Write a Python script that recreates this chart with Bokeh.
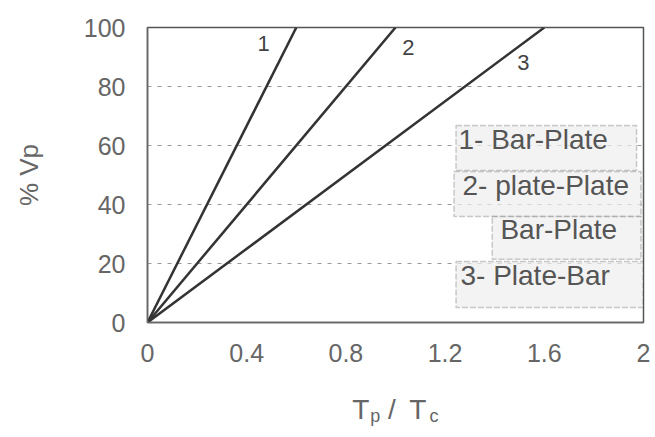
from bokeh.plotting import figure
from bokeh.models import FixedTicker, Range1d, BoxAnnotation, Label, LinearAxis
from bokeh.embed import file_html
from bokeh.resources import INLINE

# ---- data ----
x_ticks = [0, 0.4, 0.8, 1.2, 1.6, 2]
x_tick_labels = ["0", "0.4", "0.8", "1.2", "1.6", "2"]
y_ticks = [0, 20, 40, 60, 80, 100]
y_tick_labels = ["0", "20", "40", "60", "80", "100"]

line_names = ["1", "2", "3"]
line1_x = [0, 0.6]
line1_y = [0, 100]
line2_x = [0, 1.0]
line2_y = [0, 100]
line3_x = [0, 1.6]
line3_y = [0, 100]

legend_texts = ["1- Bar-Plate", "2- plate-Plate", "Bar-Plate", "3- Plate-Bar"]

# x-axis title "T_p / T_c" : main characters and subscripts
title_main_pos = [0.86, 0.985, 1.09]
title_main_txt = ["T", "/", "T"]
title_sub_pos = [0.918, 1.155]
title_sub_txt = ["p", "c"]

FONT = "Liberation Sans"
TXT = "#666666"

W, H = 652, 435
p = figure(width=W, height=H, output_backend="svg", toolbar_location=None,
           x_range=Range1d(0, 2), y_range=Range1d(0, 100),
           min_border_left=147, min_border_right=W - 643, min_border_top=27,
           min_border_bottom=H - 322)
p.background_fill_color = "white"
p.border_fill_color = "white"
p.outline_line_color = "#555555"
p.outline_line_width = 1.5

for ax in (p.xaxis, p.yaxis):
    ax.major_tick_line_color = None
    ax.minor_tick_line_color = None
    ax.axis_line_color = "#666666"
    ax.axis_line_width = 1.5
    ax.major_label_text_font = FONT
    ax.major_label_text_font_size = "25px"
    ax.major_label_text_color = TXT
    ax.axis_label_text_font = FONT
    ax.axis_label_text_font_style = "normal"
    ax.axis_label_text_color = TXT
    ax.major_tick_out = 0
    ax.major_tick_in = 0

p.xaxis.ticker = FixedTicker(ticks=x_ticks)
p.xaxis.major_label_overrides = dict(zip(x_ticks, x_tick_labels))
p.yaxis.ticker = FixedTicker(ticks=y_ticks)
p.yaxis.major_label_overrides = dict(zip(y_ticks, y_tick_labels))
p.xaxis.major_label_standoff = 21
p.yaxis.major_label_standoff = 22
p.yaxis.axis_label = "% Vp"
p.yaxis.axis_label_text_font_size = "26px"
p.yaxis.axis_label_standoff = 37


def text_axis(ticks, labels, size, standoff):
    a = LinearAxis(ticker=FixedTicker(ticks=ticks),
                   major_label_overrides=dict(zip(ticks, labels)))
    a.axis_line_color = None
    a.major_tick_line_color = None
    a.minor_tick_line_color = None
    a.major_tick_out = 0
    a.major_tick_in = 0
    a.major_label_standoff = standoff
    a.major_label_text_font = FONT
    a.major_label_text_font_size = size
    a.major_label_text_color = TXT
    return a


p.add_layout(text_axis(title_main_pos, title_main_txt, "28px", 29), "below")
p.add_layout(text_axis(title_sub_pos, title_sub_txt, "18px", -22), "below")

p.xgrid.grid_line_color = None
p.ygrid.grid_line_color = "#999999"
p.ygrid.grid_line_dash = "4 6"
p.ygrid.grid_line_width = 1.2

for xs, ys in ((line1_x, line1_y), (line2_x, line2_y), (line3_x, line3_y)):
    p.line(xs, ys, line_color="#333333", line_width=2.5)

# line number labels near the line ends
num_pos = [(0.468, 94.6), (1.052, 93.2), (1.516, 88.1)]
for name, (lx, ly) in zip(line_names, num_pos):
    p.add_layout(Label(x=lx, y=ly, text=name, text_font=FONT, text_font_size="22px",
                       text_color="#444444", text_align="center", text_baseline="middle"))

# legend boxes
boxes = [(1.244, 1.972, 51.5, 66.8), (1.236, 1.99, 35.9, 51.2),
         (1.39, 1.99, 21.4, 35.9), (1.244, 1.998, 5.1, 20.7)]
text_x = [1.254, 1.27, 1.423, 1.262]
for (l, r, b, t), tx, txt in zip(boxes, text_x, legend_texts):
    p.add_layout(BoxAnnotation(left=l, right=r, bottom=b, top=t,
                               fill_color="#eeeeee", fill_alpha=0.7,
                               line_color="#555555", line_width=1.5, line_dash="6 2"))
    p.add_layout(Label(x=tx, y=(b + t) / 2 + 3, text=txt, text_font=FONT,
                       text_font_size="28px", text_color="#555555",
                       text_align="left", text_baseline="middle"))

open("out.html", "w").write(file_html(p, INLINE))
